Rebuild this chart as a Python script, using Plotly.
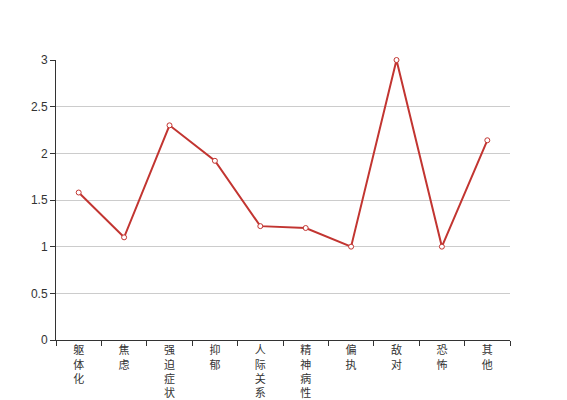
import plotly.graph_objects as go

categories = ["躯体化", "焦虑", "强迫症状", "抑郁", "人际关系敏感", "精神病性", "偏执", "敌对", "恐怖", "其他"]
values = [1.58, 1.1, 2.3, 1.92, 1.22, 1.2, 1.0, 3.0, 1.0, 2.14]
y_ticks = [0, 0.5, 1, 1.5, 2, 2.5, 3]
y_tick_labels = ["0", "0.5", "1", "1.5", "2", "2.5", "3"]

tick_text = ["<br>".join(list(c)) for c in categories]

fig = go.Figure()
fig.add_trace(go.Scatter(
    x=categories, y=values, mode="lines+markers",
    line=dict(color="#c23531", width=2),
    marker=dict(symbol="circle", size=5, color="white", line=dict(color="#c23531", width=1)),
    cliponaxis=False,
))

fig.update_layout(
    width=567, height=400,
    margin=dict(l=48, r=65, t=52, b=68),
    paper_bgcolor="white", plot_bgcolor="white",
    showlegend=False,
    font=dict(family="Liberation Sans, Noto Sans CJK SC", size=12, color="#333"),
    xaxis=dict(
        type="category", tickmode="array", tickvals=categories, ticktext=tick_text,
        tickson="boundaries", ticks="outside", ticklen=5, tickcolor="#333",
        showline=True, linecolor="#333", linewidth=1, showgrid=False,
        tickangle=0, tickfont=dict(size=11, color="#333", family="Noto Sans CJK SC"),
        range=[-0.5, len(categories) - 0.5], automargin=False, zeroline=False,
    ),
    yaxis=dict(
        range=[0, 3], tickmode="array", tickvals=y_ticks, ticktext=y_tick_labels,
        ticks="outside", ticklen=5, tickcolor="#333",
        showline=True, linecolor="#333", linewidth=1,
        showgrid=True, gridcolor="#ccc", gridwidth=1, zeroline=False,
        tickfont=dict(size=12, color="#333"), automargin=False,
    ),
)

fig.write_html("out.html")
